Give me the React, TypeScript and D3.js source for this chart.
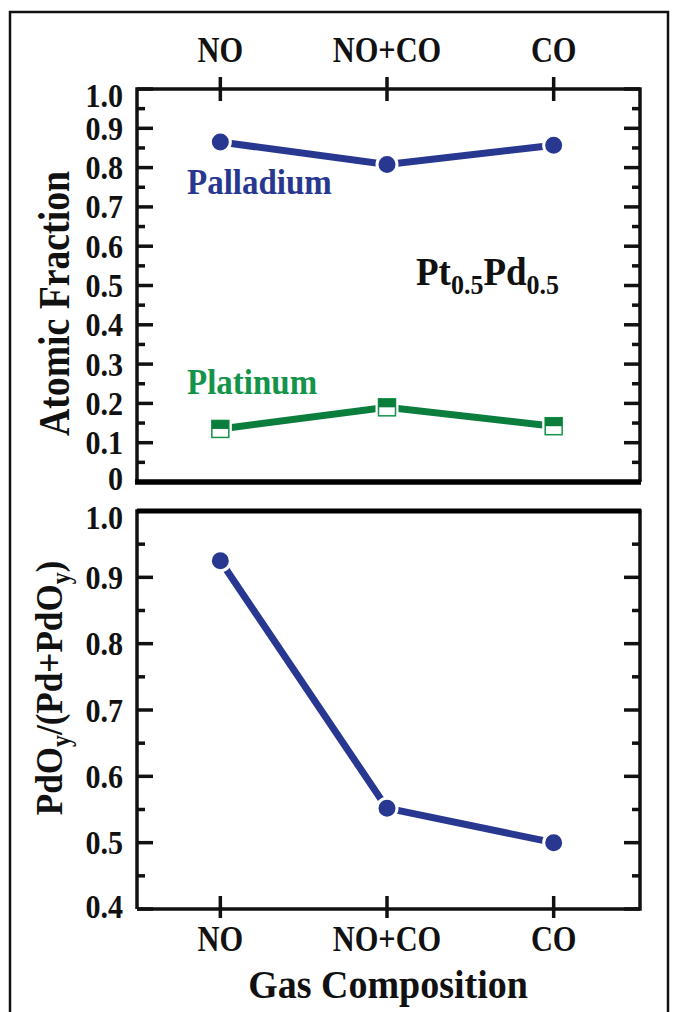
import React from "react";
import * as d3 from "d3";

const categories = ["NO", "NO+CO", "CO"];
const palladium = [0.865, 0.808, 0.857];
const platinum = [0.135, 0.19, 0.142];
const pdoFraction = [0.925, 0.552, 0.5];
const topTicks = [0, 0.1, 0.2, 0.3, 0.4, 0.5, 0.6, 0.7, 0.8, 0.9, 1.0];
const topTickLabels = ["0", "0.1", "0.2", "0.3", "0.4", "0.5", "0.6", "0.7", "0.8", "0.9", "1.0"];
const bottomTicks = [0.4, 0.5, 0.6, 0.7, 0.8, 0.9, 1.0];
const bottomTickLabels = ["0.4", "0.5", "0.6", "0.7", "0.8", "0.9", "1.0"];

const W = 676;
const H = 1012;
const FONT = "'Liberation Serif', 'Times New Roman', serif";
const BLUE = "#283891";
const GREEN = "#0b7d3d";
const GREEN_TEXT = "#13944a";

const xL = 137;
const xR = 640;
const top1 = 89;
const bot1 = 482;
const top2 = 511;
const bot2 = 909;

const x = d3.scalePoint<string>().domain(categories).range([xL, 637]).padding(0.5);
const y1 = d3.scaleLinear().domain([0, 1]).range([bot1, top1]);
const y2 = d3.scaleLinear().domain([0.4, 1]).range([bot2, top2]);

function minorTicks(lo: number, hi: number) {
  const out: number[] = [];
  for (let v = lo + 0.05; v < hi - 0.001; v += 0.1) out.push(+v.toFixed(2));
  return out;
}

function YAxisTicks({ scale, major, labels, minor, labelNudge }: any) {
  return (
    <g>
      {major.map((v: number, i: number) => (
        <g key={"M" + i}>
          <line x1={xL} x2={xL + 16} y1={scale(v)} y2={scale(v)} stroke="#111" strokeWidth={3.5} />
          <line x1={xR} x2={xR - 16} y1={scale(v)} y2={scale(v)} stroke="#111" strokeWidth={3.5} />
          <text
            transform={`translate(123, ${scale(v) + (labelNudge[i] || 0)}) scale(0.97, 1.06)`}
            dy="0.35em"
            textAnchor="end"
            fontFamily={FONT}
            fontWeight="bold"
            fontSize={31}
            fill="#111"
          >
            {labels[i]}
          </text>
        </g>
      ))}
      {minor.map((v: number, i: number) => (
        <g key={"m" + i}>
          <line x1={xL} x2={xL + 8} y1={scale(v)} y2={scale(v)} stroke="#111" strokeWidth={3.5} />
          <line x1={xR} x2={xR - 8} y1={scale(v)} y2={scale(v)} stroke="#111" strokeWidth={3.5} />
        </g>
      ))}
    </g>
  );
}

export default function App() {
  const line1 = d3
    .line<number>()
    .x((_, i) => x(categories[i]) as number)
    .y((d) => y1(d));
  const line2 = d3
    .line<number>()
    .x((_, i) => x(categories[i]) as number)
    .y((d) => y2(d));

  const sq = 17;

  return (
    <svg width={W} height={H} style={{ position: "absolute", left: 0, top: 0, background: "#fff" }}>
      <rect x={0} y={0} width={W} height={H} fill="#fff" />
      {/* outer border */}
      <rect x={10} y={12} width={658} height={1010} fill="none" stroke="#111" strokeWidth={2.5} />

      {/* ===== top panel ===== */}
      {categories.map((c) => (
        <g key={"tc" + c}>
          <line x1={x(c)} x2={x(c)} y1={top1 - 12} y2={top1 + 12} stroke="#111" strokeWidth={3.5} />
          <text
            transform={`translate(${x(c)}, 62) scale(0.95, 1.1)`}
            textAnchor="middle"
            fontFamily={FONT}
            fontWeight="bold"
            fontSize={32}
            fill="#111"
          >
            {c}
          </text>
        </g>
      ))}
      <YAxisTicks
        scale={y1}
        major={topTicks}
        labels={topTickLabels}
        minor={minorTicks(0, 1)}
        labelNudge={topTicks.map((v) => (v === 1 ? 6 : v === 0 ? -4 : 0))}
      />
      <path
        d={`M${xL},${bot1} V${top1} H${xR} V${bot1}`}
        fill="none"
        stroke="#111"
        strokeWidth={3.5}
      />
      <line x1={xL - 2} x2={xR + 1} y1={bot1} y2={bot1} stroke="#000" strokeWidth={5.5} />

      {/* palladium */}
      <path d={line1(palladium) || ""} fill="none" stroke={BLUE} strokeWidth={7} strokeLinecap="round" />
      {palladium.map((v, i) => (
        <circle key={"pd" + i} cx={x(categories[i])} cy={y1(v)} r={10} fill={BLUE} stroke="#fff" strokeWidth={3} />
      ))}
      {/* platinum */}
      <path d={line1(platinum) || ""} fill="none" stroke={GREEN} strokeWidth={7} strokeLinecap="round" />
      {platinum.map((v, i) => {
        const cx = x(categories[i]) as number;
        const cy = y1(v);
        return (
          <g key={"pt" + i}>
            <rect x={cx - sq / 2 - 3} y={cy - sq / 2 - 3} width={sq + 6} height={sq + 6} fill="#fff" />
            <rect x={cx - sq / 2} y={cy - sq / 2} width={sq} height={sq} fill="#fff" stroke={GREEN_TEXT} strokeWidth={1.5} />
            <rect x={cx - sq / 2} y={cy - sq / 2} width={sq} height={sq / 2} fill={GREEN} />
          </g>
        );
      })}

      <text transform="translate(187, 194) scale(1, 1.08)" fontFamily={FONT} fontWeight="bold" fontSize={33} fill={BLUE}>
        Palladium
      </text>
      <text transform="translate(187, 394) scale(1, 1.08)" fontFamily={FONT} fontWeight="bold" fontSize={33} fill={GREEN_TEXT}>
        Platinum
      </text>
      <text transform="translate(416, 285) scale(1, 1.08)" fontFamily={FONT} fontWeight="bold" fontSize={37} fill="#111">
        Pt
        <tspan fontSize={26} dy={8}>0.5</tspan>
        <tspan dy={-8}>Pd</tspan>
        <tspan fontSize={26} dy={8}>0.5</tspan>
      </text>

      <text
        transform={`translate(69, ${(top1 + bot1) / 2 + 18}) rotate(-90) scale(0.92, 1.1)`}
        textAnchor="middle"
        fontFamily={FONT}
        fontWeight="bold"
        fontSize={41}
        fill="#111"
      >
        Atomic Fraction
      </text>

      {/* ===== bottom panel ===== */}
      <YAxisTicks
        scale={y2}
        major={bottomTicks}
        labels={bottomTickLabels}
        minor={minorTicks(0.4, 1)}
        labelNudge={bottomTicks.map((v) => (v === 1 ? 6 : v === 0.4 ? -3 : 0))}
      />
      <path
        d={`M${xL},${bot2} V${top2} H${xR} V${bot2} H${xL}`}
        fill="none"
        stroke="#111"
        strokeWidth={3.5}
      />
      <line x1={xL} x2={xR + 1} y1={top2} y2={top2} stroke="#000" strokeWidth={5} />
      {categories.map((c) => (
        <g key={"bc" + c}>
          <line x1={x(c)} x2={x(c)} y1={bot2 - 13} y2={bot2 + 9} stroke="#111" strokeWidth={3.5} />
          <text
            transform={`translate(${x(c)}, 951) scale(0.95, 1.1)`}
            textAnchor="middle"
            fontFamily={FONT}
            fontWeight="bold"
            fontSize={32}
            fill="#111"
          >
            {c}
          </text>
        </g>
      ))}
      <path d={line2(pdoFraction) || ""} fill="none" stroke={BLUE} strokeWidth={7} strokeLinecap="round" />
      {pdoFraction.map((v, i) => (
        <circle key={"po" + i} cx={x(categories[i])} cy={y2(v)} r={10} fill={BLUE} stroke="#fff" strokeWidth={3} />
      ))}

      <text
        transform={`translate(62, ${(top2 + bot2) / 2 - 22}) rotate(-90) scale(0.95, 1.05)`}
        textAnchor="middle"
        fontFamily={FONT}
        fontWeight="bold"
        fontSize={37}
        fill="#111"
      >
        PdO
        <tspan fontSize={25} dy={8}>y</tspan>
        <tspan dy={-8}>/(Pd+PdO</tspan>
        <tspan fontSize={25} dy={8}>y</tspan>
        <tspan dy={-8}>)</tspan>
      </text>

      <text transform="translate(388, 998) scale(1, 1.08)" textAnchor="middle" fontFamily={FONT} fontWeight="bold" fontSize={38} fill="#111">
        Gas Composition
      </text>
    </svg>
  );
}
